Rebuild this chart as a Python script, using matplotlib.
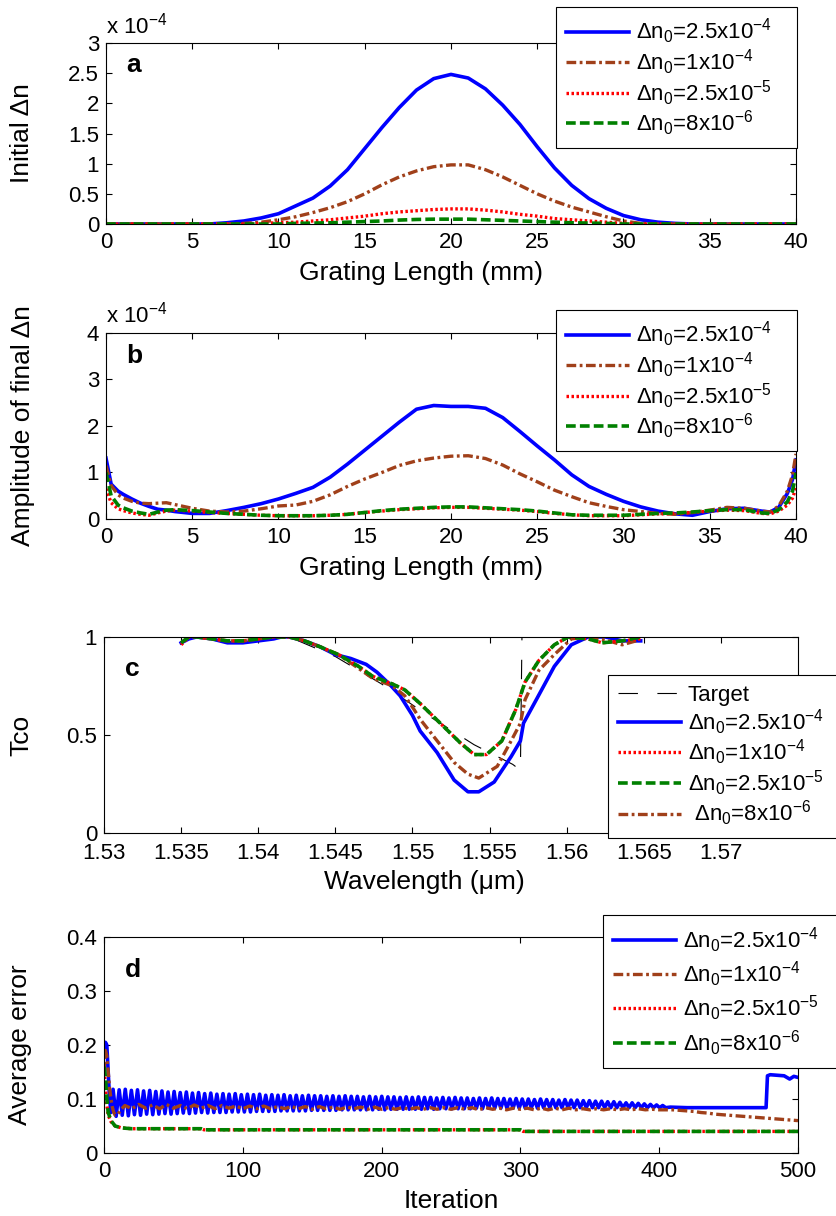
import numpy as np
import matplotlib
matplotlib.use("Agg")
import matplotlib.pyplot as plt

plt.rcParams['font.family'] = ['Liberation Sans', 'DejaVu Sans']
plt.rcParams['mathtext.fontset'] = 'custom'
plt.rcParams['mathtext.rm'] = 'Liberation Sans'
plt.rcParams['mathtext.it'] = 'Liberation Sans:italic'
plt.rcParams['mathtext.bf'] = 'Liberation Sans:bold'
plt.rcParams['lines.scale_dashes'] = False

# ---------------- data ----------------
labels = ['Δn$_0$=2.5x10$^{-4}$', 'Δn$_0$=1x10$^{-4}$',
          'Δn$_0$=2.5x10$^{-5}$', 'Δn$_0$=8x10$^{-6}$']

# (a) initial index modulation, units of 1e-4, sampled every 1 mm
len_a = np.arange(0, 41)
a_blue = [0, 0, 0, 0, 0, 0, 0, 0.02, 0.05, 0.1, 0.17, 0.3, 0.43, 0.63, 0.9, 1.25,
          1.6, 1.93, 2.22, 2.41, 2.48, 2.42, 2.24, 1.97, 1.65, 1.28, 0.93, 0.64,
          0.42, 0.26, 0.14, 0.07, 0.03, 0.01, 0, 0, 0, 0, 0, 0, 0]
a_brown = [0, 0, 0, 0, 0, 0, 0, 0, 0.01, 0.03, 0.07, 0.12, 0.19, 0.27, 0.37, 0.5,
           0.65, 0.78, 0.88, 0.95, 0.98, 0.98, 0.9, 0.78, 0.64, 0.5, 0.38, 0.28,
           0.2, 0.12, 0.05, 0.01, 0, 0, 0, 0, 0, 0, 0, 0, 0]
a_red = [0, 0, 0, 0, 0, 0, 0, 0, 0, 0.01, 0.02, 0.03, 0.05, 0.07, 0.1, 0.13,
         0.17, 0.2, 0.22, 0.24, 0.25, 0.25, 0.23, 0.2, 0.16, 0.13, 0.09, 0.07,
         0.05, 0.03, 0.01, 0, 0, 0, 0, 0, 0, 0, 0, 0, 0]
a_green = [0, 0, 0, 0, 0, 0, 0, 0, 0, 0, 0, 0.01, 0.015, 0.02, 0.03, 0.04,
           0.05, 0.065, 0.075, 0.08, 0.08, 0.08, 0.07, 0.06, 0.05, 0.04, 0.03,
           0.02, 0.015, 0.01, 0, 0, 0, 0, 0, 0, 0, 0, 0, 0, 0]

# (b) amplitude of final index modulation, units of 1e-4
len_b = [0, 0.3, 0.7, 1, 1.5, 2, 2.5, 3, 3.5, 4, 5, 6, 7, 8, 9, 10, 11, 12, 13,
         14, 15, 16, 17, 18, 19, 20, 21, 22, 23, 24, 25, 26, 27, 28, 29, 30, 31,
         32, 33, 34, 35, 36, 37, 38, 38.5, 39, 39.5, 39.8, 40]
b_blue = [1.31, 0.75, 0.6, 0.53, 0.43, 0.34, 0.27, 0.21, 0.19, 0.16, 0.12, 0.12,
          0.18, 0.25, 0.33, 0.43, 0.55, 0.68, 0.9, 1.18, 1.48, 1.78, 2.08, 2.36,
          2.44, 2.42, 2.42, 2.38, 2.18, 1.88, 1.57, 1.27, 0.95, 0.7, 0.53, 0.38,
          0.26, 0.17, 0.11, 0.08, 0.16, 0.22, 0.23, 0.17, 0.15, 0.25, 0.55, 0.85,
          1.27]
b_brown = [1.15, 0.72, 0.52, 0.45, 0.38, 0.34, 0.33, 0.34, 0.35, 0.31, 0.23, 0.17,
           0.15, 0.17, 0.22, 0.28, 0.3, 0.38, 0.52, 0.7, 0.86, 1.0, 1.15, 1.25,
           1.31, 1.35, 1.36, 1.3, 1.16, 0.97, 0.8, 0.62, 0.48, 0.35, 0.27, 0.2,
           0.16, 0.12, 0.1, 0.14, 0.19, 0.25, 0.23, 0.17, 0.15, 0.28, 0.6, 0.95,
           1.4]
b_red = [0.65, 0.35, 0.22, 0.18, 0.13, 0.1, 0.08, 0.13, 0.17, 0.19, 0.17, 0.14,
         0.12, 0.1, 0.08, 0.07, 0.07, 0.07, 0.08, 0.1, 0.14, 0.17, 0.2, 0.22,
         0.24, 0.25, 0.25, 0.23, 0.21, 0.19, 0.16, 0.12, 0.09, 0.07, 0.07, 0.07,
         0.09, 0.11, 0.12, 0.14, 0.17, 0.19, 0.18, 0.12, 0.11, 0.17, 0.3, 0.45,
         0.67]
b_green = [1.0, 0.5, 0.3, 0.24, 0.17, 0.13, 0.1, 0.15, 0.19, 0.2, 0.18, 0.15,
           0.12, 0.1, 0.08, 0.07, 0.07, 0.07, 0.08, 0.1, 0.14, 0.18, 0.21, 0.23,
           0.25, 0.26, 0.26, 0.24, 0.22, 0.2, 0.17, 0.13, 0.09, 0.08, 0.08, 0.08,
           0.1, 0.12, 0.13, 0.15, 0.18, 0.2, 0.2, 0.13, 0.12, 0.2, 0.37, 0.6,
           0.99]

# (c) transmission spectra
wl_target = [1.535, 1.542, 1.545, 1.548, 1.551, 1.554, 1.5565, 1.557, 1.5571, 1.565]
tco_target = [1.0, 1.0, 0.9, 0.76, 0.6, 0.45, 0.35, 0.32, 1.0, 1.0]

wl_blue = [1.535, 1.5355, 1.536, 1.537, 1.538, 1.539, 1.540, 1.541, 1.5415, 1.542,
           1.543, 1.544, 1.545, 1.546, 1.547, 1.5477, 1.5485, 1.5492, 1.550,
           1.5505, 1.5516, 1.5527, 1.5536, 1.5543, 1.5553, 1.5564, 1.557, 1.5572,
           1.5581, 1.5592, 1.5603, 1.5614, 1.5625, 1.5636, 1.5648]
tco_blue = [0.97, 0.99, 1.0, 0.99, 0.97, 0.97, 0.98, 0.99, 1.0, 1.0, 0.98, 0.95,
            0.91, 0.89, 0.86, 0.82, 0.76, 0.70, 0.60, 0.52, 0.41, 0.27, 0.21,
            0.21, 0.26, 0.39, 0.47, 0.56, 0.69, 0.85, 0.96, 1.0, 1.0, 0.98, 0.98]
wl_brown = [1.535, 1.5355, 1.536, 1.537, 1.538, 1.539, 1.540, 1.541, 1.542, 1.543,
            1.544, 1.5452, 1.5465, 1.5474, 1.5487, 1.5495, 1.5501, 1.5505, 1.5516,
            1.5527, 1.5536, 1.5543, 1.5555, 1.5564, 1.557, 1.5573, 1.5582, 1.5592,
            1.5603, 1.5614, 1.5627, 1.5636, 1.5645]
tco_brown = [0.97, 1.0, 1.0, 0.99, 0.98, 0.98, 0.99, 1.0, 1.0, 0.98, 0.95, 0.91,
             0.84, 0.79, 0.75, 0.70, 0.63, 0.58, 0.47, 0.36, 0.30, 0.28, 0.34,
             0.47, 0.56, 0.68, 0.83, 0.91, 0.99, 1.0, 0.98, 0.96, 0.98]
wl_green = [1.535, 1.5355, 1.536, 1.537, 1.538, 1.539, 1.540, 1.541, 1.542, 1.543,
            1.544, 1.5452, 1.5465, 1.5474, 1.5487, 1.5495, 1.5505, 1.5518, 1.5531,
            1.554, 1.5548, 1.5558, 1.5567, 1.5573, 1.5582, 1.5592, 1.5601, 1.5614,
            1.5623, 1.5636, 1.5648]
tco_green = [0.97, 1.0, 1.0, 0.99, 0.98, 0.98, 0.99, 1.0, 1.0, 0.98, 0.95, 0.91,
             0.85, 0.80, 0.76, 0.73, 0.66, 0.56, 0.46, 0.40, 0.40, 0.47, 0.63,
             0.77, 0.88, 0.96, 1.0, 0.99, 0.97, 0.98, 1.0]
tco_red = [0.96, 1.0, 1.0, 0.99, 0.98, 0.98, 0.99, 1.0, 1.0, 0.98, 0.95, 0.91,
           0.85, 0.80, 0.76, 0.73, 0.66, 0.56, 0.46, 0.40, 0.40, 0.47, 0.63,
           0.77, 0.88, 0.96, 1.0, 0.99, 0.97, 0.98, 0.99]

# (d) average error vs iteration
blue_head_it = [0, 1, 2, 3, 4, 5]
blue_head = [0.19, 0.205, 0.2, 0.15, 0.1, 0.075]
blue_peaks = [0.118, 0.117, 0.118, 0.116, 0.117, 0.115, 0.116, 0.114, 0.115, 0.113,
              0.114, 0.112, 0.113, 0.111, 0.112, 0.110, 0.111, 0.109, 0.110, 0.109,
              0.110, 0.108, 0.109, 0.108, 0.109, 0.107, 0.108, 0.107, 0.108, 0.106,
              0.107, 0.106, 0.107, 0.106, 0.106, 0.105, 0.106, 0.105, 0.106, 0.105,
              0.105, 0.104, 0.105, 0.104, 0.105, 0.104, 0.104, 0.103, 0.104, 0.103,
              0.104, 0.103, 0.103, 0.102, 0.103, 0.102, 0.103, 0.102, 0.102, 0.101,
              0.102, 0.101, 0.102, 0.101, 0.101, 0.100, 0.101, 0.100, 0.100, 0.099,
              0.100, 0.099, 0.099, 0.098, 0.099, 0.098, 0.098, 0.097, 0.097, 0.096,
              0.096, 0.095, 0.095, 0.094, 0.093, 0.093, 0.092, 0.091, 0.090, 0.089,
              0.088]
blue_troughs = [0.068, 0.070, 0.069, 0.071, 0.070, 0.072, 0.071, 0.072, 0.073, 0.072,
                0.073, 0.074, 0.073, 0.074, 0.075, 0.074, 0.075, 0.075, 0.075, 0.076,
                0.076, 0.076, 0.076, 0.077, 0.077, 0.077, 0.077, 0.078, 0.078, 0.078,
                0.078, 0.078, 0.079, 0.079, 0.079, 0.079, 0.079, 0.080, 0.080, 0.080,
                0.080, 0.080, 0.080, 0.081, 0.080, 0.081, 0.081, 0.081, 0.081, 0.081,
                0.081, 0.082, 0.081, 0.082, 0.082, 0.082, 0.082, 0.082, 0.082, 0.083,
                0.082, 0.083, 0.083, 0.083, 0.083, 0.083, 0.083, 0.083, 0.084, 0.083,
                0.084, 0.084, 0.084, 0.084, 0.084, 0.084, 0.084, 0.084, 0.084, 0.084,
                0.084, 0.084, 0.084, 0.084, 0.084, 0.084, 0.084, 0.084, 0.084, 0.084,
                0.084]
blue_tail_it = [408, 420, 440, 460, 477, 478, 480, 485, 490, 494, 497, 500]
blue_tail = [0.085, 0.084, 0.084, 0.084, 0.084, 0.143, 0.145, 0.144, 0.143, 0.137,
             0.142, 0.14]

brown_head_it = [0, 1, 2, 3, 4, 5, 6, 7, 8, 10, 12]
brown_head = [0.15, 0.19, 0.18, 0.15, 0.12, 0.1, 0.085, 0.075, 0.07, 0.072, 0.08]
brown_it = np.arange(15, 501, 5)
brown_err = [0.088, 0.082, 0.090, 0.083, 0.089, 0.082, 0.090, 0.083, 0.088, 0.082,
             0.089, 0.083, 0.088, 0.082, 0.088, 0.083, 0.087, 0.082,
             0.087, 0.082, 0.087, 0.082, 0.086, 0.082, 0.086, 0.082, 0.086, 0.081,
             0.086, 0.082, 0.085, 0.081, 0.085, 0.082, 0.085, 0.081, 0.085, 0.081,
             0.084, 0.081, 0.084, 0.081, 0.084, 0.081, 0.084, 0.081, 0.084, 0.081,
             0.084, 0.081, 0.084, 0.080, 0.084, 0.081, 0.083, 0.080, 0.083, 0.081,
             0.083, 0.080, 0.083, 0.080, 0.083, 0.080, 0.083, 0.080, 0.082, 0.080,
             0.082, 0.080, 0.082, 0.080, 0.082, 0.080, 0.082, 0.080, 0.081, 0.080,
             0.080, 0.080, 0.079, 0.078, 0.077, 0.075, 0.074, 0.072, 0.071, 0.070,
             0.069, 0.068, 0.067, 0.066, 0.065, 0.064, 0.063, 0.062, 0.061, 0.060]

low_it = [0, 1, 2, 3, 5, 8, 12, 15, 20, 70, 72, 300, 302, 500]
red_err = [0.16, 0.12, 0.09, 0.07, 0.058, 0.05, 0.047, 0.046, 0.045, 0.045, 0.043,
           0.043, 0.040, 0.040]
green_err = [0.16, 0.14, 0.1, 0.075, 0.06, 0.05, 0.047, 0.046, 0.045, 0.045, 0.043,
             0.043, 0.040, 0.040]

# ---------------- styles ----------------
BLUE = dict(color='#0000ff', lw=2.6, ls='-')
BROWN = dict(color='#a0401a', lw=2.4, dashes=(7, 2.5, 2, 2.5))
RED = dict(color='#ff0000', lw=2.4, dashes=(1.8, 1.8))
GREEN = dict(color='#008000', lw=2.6, dashes=(7, 3))
TICK_FS = 16
LABEL_FS = 19
LEG_FS = 16

fig = plt.figure(figsize=(8.37, 12.16), dpi=100)


def style_axes(ax, xpad=6):
    ax.tick_params(direction='in', top=True, right=True, length=4, width=0.8,
                   labelsize=TICK_FS, pad=5)
    ax.tick_params(axis='x', pad=xpad)
    for s in ax.spines.values():
        s.set_linewidth(0.8)


def add_legend(ax, handles, labs, box, spacing=0.05):
    leg = ax.legend(handles, labs, loc='upper left', bbox_to_anchor=box,
                    bbox_transform=fig.transFigure, mode='expand',
                    borderaxespad=0, fontsize=LEG_FS,
                    handlelength=2.85, handletextpad=0.3, labelspacing=spacing,
                    borderpad=0.45, fancybox=False, framealpha=1)
    leg.get_frame().set_edgecolor('black')
    leg.get_frame().set_linewidth(0.8)
    return leg


def panel_letter(ax, letter, y):
    ax.text(0.03, y, letter, transform=ax.transAxes, fontsize=19,
            fontweight='bold', va='baseline')


def set_xlabel(ax, text, x, y):
    ax.set_xlabel(text, fontsize=LABEL_FS)
    ax.xaxis.set_label_coords(x, y)
    ax.xaxis.label.set_va('top')


# (a)
ax = fig.add_axes([0.1266, 0.8158, 0.8244, 0.1488])
h = [ax.plot(len_a, a_blue, **BLUE)[0], ax.plot(len_a, a_brown, **BROWN)[0],
     ax.plot(len_a, a_red, **RED)[0], ax.plot(len_a, a_green, **GREEN)[0]]
ax.set_xlim(0, 40)
ax.set_ylim(0, 3)
ax.set_xticks(range(0, 41, 5))
ax.set_yticks([0, 0.5, 1, 1.5, 2, 2.5, 3])
ax.set_yticklabels(['0', '0.5', '1', '1.5', '2', '2.5', '3'])
style_axes(ax)
set_xlabel(ax, 'Grating Length (mm)', 0.4565, -0.205)
ax.set_ylabel('Initial Δn', fontsize=LABEL_FS)
ax.yaxis.set_label_coords(-0.105, 0.5)
ax.text(0.0, 1.055, 'x 10$^{-4}$', transform=ax.transAxes, fontsize=TICK_FS,
        va='baseline')
panel_letter(ax, 'a', 0.84)
add_legend(ax, h, labels, (0.6643, 0.8808, 0.288, 0.1135))

# (b)
ax = fig.add_axes([0.1266, 0.5732, 0.8244, 0.1530])
h = [ax.plot(len_b, b_blue, **BLUE)[0], ax.plot(len_b, b_brown, **BROWN)[0],
     ax.plot(len_b, b_red, **RED)[0], ax.plot(len_b, b_green, **GREEN)[0]]
ax.set_xlim(0, 40)
ax.set_ylim(0, 4)
ax.set_xticks(range(0, 41, 5))
ax.set_yticks(range(0, 5))
style_axes(ax)
set_xlabel(ax, 'Grating Length (mm)', 0.4565, -0.2)
ax.set_ylabel('Amplitude of final Δn', fontsize=LABEL_FS)
ax.yaxis.set_label_coords(-0.103, 0.5)
ax.text(0.0, 1.055, 'x 10$^{-4}$', transform=ax.transAxes, fontsize=TICK_FS,
        va='baseline')
panel_letter(ax, 'b', 0.84)
add_legend(ax, h, labels, (0.6643, 0.6324, 0.288, 0.1127))

# (c)
ax = fig.add_axes([0.1243, 0.3150, 0.8291, 0.1612])
ht = ax.plot(wl_target, tco_target, color='black', lw=0.8, dashes=(14, 14))[0]
hb = ax.plot(wl_blue, tco_blue, **BLUE)[0]
hbr = ax.plot(wl_brown, tco_brown, **BROWN)[0]
hr = ax.plot(wl_green, tco_red, **RED)[0]
hg = ax.plot(wl_green, tco_green, **GREEN)[0]
ax.set_xlim(1.53, 1.575)
ax.set_ylim(0, 1)
ticks_c = [1.53, 1.535, 1.54, 1.545, 1.55, 1.555, 1.56, 1.565, 1.57]
ax.set_xticks(ticks_c)
ax.set_xticklabels([f'{t:g}' for t in ticks_c])
ax.set_yticks([0, 0.5, 1])
ax.set_yticklabels(['0', '0.5', '1'])
style_axes(ax, xpad=7.5)
set_xlabel(ax, 'Wavelength (μm)', 0.462, -0.19)
ax.set_ylabel('Tco', fontsize=LABEL_FS)
ax.yaxis.set_label_coords(-0.102, 0.5)
panel_letter(ax, 'c', 0.8)
add_legend(ax, [ht, hb, hr, hg, hbr],
           ['Target', labels[0], labels[1], labels[2], ' ' + labels[3]],
           (0.7264, 0.3133, 0.2736, 0.1316))

# (d)
n = len(blue_peaks)
osc_it = np.empty(2 * n)
osc_it[0::2] = 6.5 + 4.4 * np.arange(n)
osc_it[1::2] = 8.7 + 4.4 * np.arange(n)
osc_err = np.empty(2 * n)
osc_err[0::2] = blue_peaks
osc_err[1::2] = blue_troughs
blue_it = np.concatenate([blue_head_it, osc_it, blue_tail_it])
blue_err = np.concatenate([blue_head, osc_err, blue_tail])

ax = fig.add_axes([0.1243, 0.0518, 0.8291, 0.1776])
h = [ax.plot(blue_it, blue_err, **BLUE)[0],
     ax.plot(np.concatenate([brown_head_it, brown_it]),
             np.concatenate([brown_head, brown_err]), **BROWN)[0],
     ax.plot(low_it, red_err, **RED)[0],
     ax.plot(low_it, green_err, **GREEN)[0]]
ax.set_xlim(0, 500)
ax.set_ylim(0, 0.4)
ax.set_xticks(range(0, 501, 100))
ax.set_yticks([0, 0.1, 0.2, 0.3, 0.4])
ax.set_yticklabels(['0', '0.1', '0.2', '0.3', '0.4'])
style_axes(ax)
set_xlabel(ax, 'Iteration', 0.5, -0.168)
ax.set_ylabel('Average error', fontsize=LABEL_FS)
ax.yaxis.set_label_coords(-0.104, 0.5)
panel_letter(ax, 'd', 0.815)
add_legend(ax, h, labels, (0.7204, 0.1176, 0.2796, 0.1299), spacing=0.22)

fig.savefig('out.png', dpi=100)
